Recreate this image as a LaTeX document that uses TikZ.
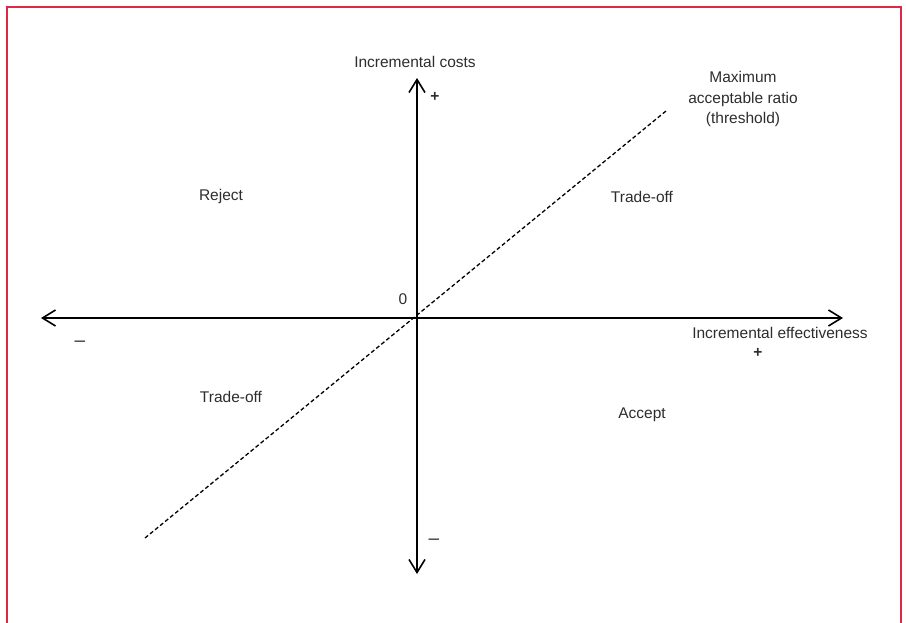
\documentclass[tikz,border=0pt]{standalone}
\usepackage{fontspec}
\setmainfont{Liberation Sans}
\usetikzlibrary{arrows.meta}
\definecolor{framered}{RGB}{222,40,70}
\definecolor{inkgray}{RGB}{45,45,45}

\begin{document}
\begin{tikzpicture}[x=1pt, y=-1pt, font=\fontsize{15.5}{20.5}\selectfont, text=inkgray,
    >={Straight Barb[length=13pt,width=16pt,line width=1.6pt]},
    axis/.style = {line width=2.2pt, <->},
    ratio/.style = {line width=1.3pt, dash pattern=on 4pt off 2.5pt},
    lbl/.style = {inner sep=1pt, align=center},
    sign/.style = {inner sep=1pt, font=\fontsize{19}{20}\selectfont}]
    \useasboundingbox (0,0) rectangle (906,623);
    \draw[framered, line width=2pt] (7,623) -- (7,7) -- (901,7) -- (901,623);

    \coordinate (O) at (416,318);
    \coordinate (west) at (41,318);
    \coordinate (east) at (843,318);
    \coordinate (north) at (417,78);
    \coordinate (south) at (417,574);
    \coordinate (lo) at (145,538);
    \coordinate (hi) at (666,111);

    \draw[axis] (west) -- (east);
    \draw[axis] (south) -- (north);
    \draw[ratio] (lo) -- (hi);

    \node[lbl] (costs) at (415,62) {Incremental costs};
    \node[lbl] (cplus) at (435,97) {\textbf{+}};
    \node[lbl] (thresh) at (743,99) {Maximum\\acceptable ratio\\(threshold)};
    \node[lbl] (reject) at (221,196) {Reject};
    \node[lbl] (tradeup) at (642,197) {Trade-off};
    \node[lbl] (zero) at (403,299) {0};
    \node[sign] (eminus) at (80,344) {–};
    \node[lbl] (effect) at (780,333) {Incremental effectiveness};
    \node[lbl] (eplus) at (758,353) {\textbf{+}};
    \node[lbl] (tradelo) at (231,397) {Trade-off};
    \node[lbl] (accept) at (642,415) {Accept};
    \node[sign] (cminus) at (434,542) {–};
\end{tikzpicture}
\end{document}
